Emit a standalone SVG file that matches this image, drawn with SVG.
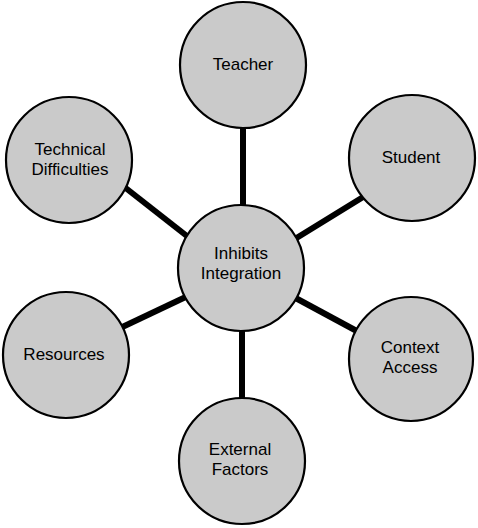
<svg xmlns="http://www.w3.org/2000/svg" width="478" height="528" viewBox="0 0 478 528">
<style>
.n{fill:#cacaca;stroke:#000;stroke-width:2.2}
.t{font-family:"Liberation Sans",Arial,sans-serif;font-size:17px;fill:#000;text-anchor:middle}
.c{stroke:#000;stroke-width:6;stroke-linecap:butt}
</style>
<rect width="478" height="528" fill="#fff"/>
<g id="connectors">
<line class="c" x1="243" y1="120" x2="243" y2="215"/>
<line class="c" x1="368" y1="194" x2="290" y2="242"/>
<line class="c" x1="118" y1="182" x2="192" y2="240"/>
<line class="c" x1="116" y1="330" x2="192" y2="294"/>
<line class="c" x1="366" y1="336" x2="290" y2="295"/>
<line class="c" x1="242" y1="322" x2="242" y2="405"/>
</g>
<g id="teacher"><circle class="n" cx="243" cy="65" r="63"/><text class="t" x="243" y="70">Teacher</text></g>
<g id="student"><circle class="n" cx="412" cy="158" r="63"/><text class="t" x="411" y="163">Student</text></g>
<g id="technical"><circle class="n" cx="69" cy="160" r="63"/><text class="t" x="70" y="155">Technical</text><text class="t" x="70" y="175">Difficulties</text></g>
<g id="center"><circle class="n" cx="241" cy="268" r="63"/><text class="t" x="241" y="259">Inhibits</text><text class="t" x="241" y="279">Integration</text></g>
<g id="resources"><circle class="n" cx="66" cy="355" r="63"/><text class="t" x="64" y="360">Resources</text></g>
<g id="context"><circle class="n" cx="411" cy="359" r="62"/><text class="t" x="410" y="353">Context</text><text class="t" x="410" y="373">Access</text></g>
<g id="external"><circle class="n" cx="242" cy="461" r="63"/><text class="t" x="240" y="455">External</text><text class="t" x="240" y="475">Factors</text></g>
</svg>
